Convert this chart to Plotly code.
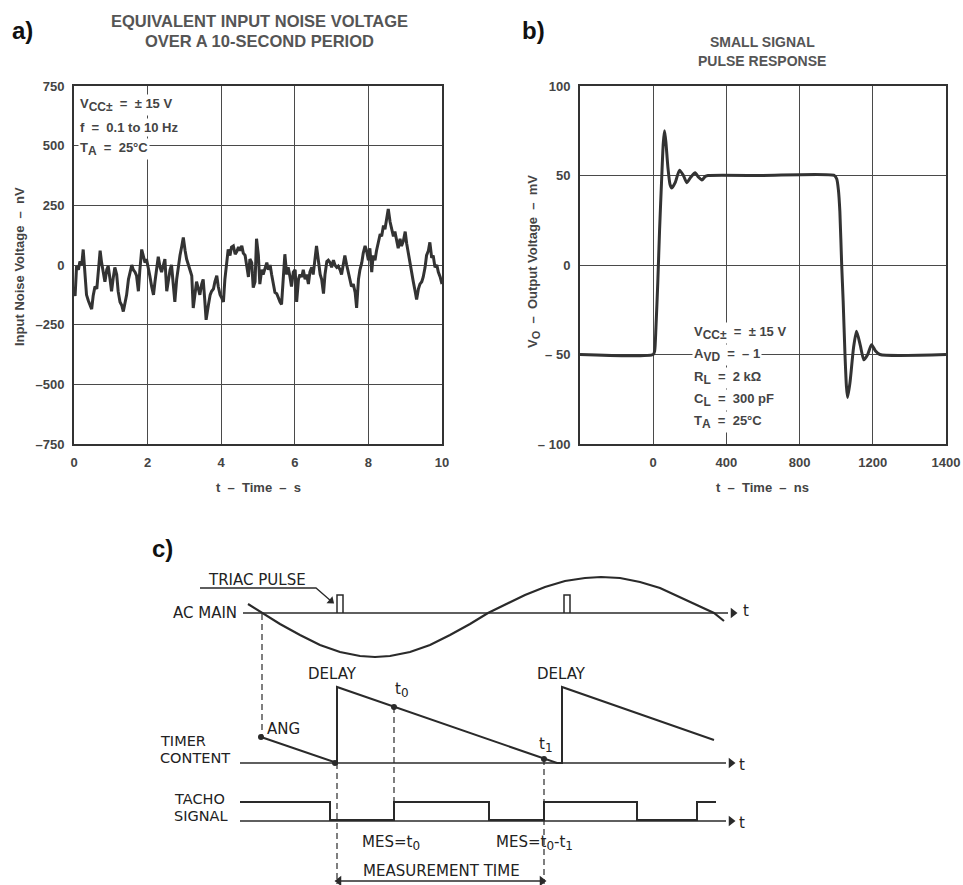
import plotly.graph_objects as go

# ---------------- Panel a: equivalent input noise ----------------
noise_t = [0.00,0.03,0.07,0.12,0.16,0.21,0.25,0.30,0.34,0.39,0.43,0.48,0.52,0.57,0.62,0.66,0.71,0.75,0.80,0.84,
           0.89,0.93,0.98,1.02,1.07,1.11,1.16,1.20,1.25,1.30,1.34,1.39,1.43,1.48,1.52,1.57,1.61,1.66,1.70,1.75,
           1.79,1.84,1.88,1.93,1.97,2.02,2.06,2.11,2.16,2.20,2.25,2.29,2.34,2.38,2.43,2.47,2.52,2.56,2.61,2.65,
           2.70,2.74,2.79,2.84,2.88,2.93,2.97,3.02,3.06,3.11,3.15,3.20,3.24,3.29,3.33,3.38,3.42,3.47,3.51,3.55,
           3.59,3.65,3.70,3.74,3.79,3.83,3.88,3.92,3.97,4.02,4.06,4.10,4.15,4.19,4.24,4.28,4.33,4.38,4.42,4.47,
           4.51,4.56,4.60,4.65,4.70,4.74,4.78,4.83,4.87,4.92,4.96,5.01,5.05,5.10,5.14,5.19,5.24,5.28,5.33,5.37,
           5.42,5.46,5.51,5.55,5.60,5.64,5.69,5.73,5.78,5.82,5.87,5.91,5.96,6.01,6.05,6.10,6.14,6.19,6.23,6.28,
           6.32,6.37,6.41,6.46,6.50,6.55,6.59,6.64,6.69,6.73,6.78,6.82,6.87,6.91,6.96,7.00,7.05,7.09,7.14,7.18,
           7.23,7.27,7.32,7.36,7.41,7.45,7.50,7.54,7.59,7.64,7.68,7.73,7.77,7.82,7.86,7.91,7.95,8.00,8.04,8.09,
           8.13,8.18,8.22,8.27,8.32,8.36,8.41,8.45,8.50,8.54,8.59,8.63,8.68,8.72,8.77,8.81,8.86,8.90,8.95,9.00,
           9.04,9.09,9.13,9.18,9.22,9.27,9.31,9.36,9.40,9.45,9.49,9.54,9.58,9.63,9.67,9.72,9.76,9.81,9.86,9.90,
           9.95,10.00]
noise_nv = [-110,-130,-5,-20,15,0,65,-40,-125,-150,-170,-185,-130,-90,-100,-20,60,10,-40,-70,
            -20,-5,-60,-110,-50,-10,-40,-110,-155,-170,-195,-150,-125,-60,-30,0,-20,-30,-45,-110,
            -20,65,40,10,25,-10,-45,-90,-125,-70,0,35,-10,-30,0,25,-110,-60,-20,0,
            -80,-155,-60,10,40,80,115,60,25,0,-20,-45,-180,-120,-70,-100,-125,-80,-60,-140,
            -230,-170,-125,-110,-100,-70,-45,-90,-125,-140,-155,-60,10,65,40,75,80,45,55,75,
            60,80,50,40,-10,-50,25,10,-95,-70,110,40,-80,-20,-40,-10,10,-20,0,-40,
            -75,-115,-120,-140,-155,-165,-60,45,-40,-10,-50,-90,-30,-20,-155,-60,-40,-50,-20,-60,
            -40,-80,-30,-10,-40,20,80,20,-40,-60,-120,-40,15,20,10,-10,20,0,-10,-5,
            -20,-40,10,40,0,-30,-60,-90,-80,-115,-180,-60,-20,10,50,80,60,20,70,-30,
            40,20,60,95,130,120,165,150,200,235,180,150,120,140,100,70,110,80,100,140,
            90,40,0,-40,-70,-110,-145,-100,-80,-70,-50,-10,40,60,95,30,40,-10,0,-30,
            -50,-80]
a_xticks = [0, 2, 4, 6, 8, 10]
a_yticks = [-750, -500, -250, 0, 250, 500, 750]
a_yticktext = ["\u2013750", "\u2013500", "\u2013250", "0", "250", "500", "750"]

# ---------------- Panel b: small signal pulse response ----------------
pulse_ns = [-400, 0, 8, 15, 25, 35, 47, 55, 62, 70, 80, 92, 102, 120, 144, 165, 184, 205, 229, 248, 266, 285, 300,
            600, 990, 1003, 1012, 1020, 1030, 1038, 1048, 1056, 1062, 1075, 1095, 1111, 1132, 1151, 1172, 1193,
            1215, 1239, 1600]
pulse_mv = [-50, -50, -48, -35, -10, 20, 50, 68, 75, 68, 55, 45, 43, 46, 53, 50, 46, 49, 51.5, 49, 47.5, 49.5, 50,
            50, 50, 48, 42, 30, 0, -20, -50, -68, -74, -66, -46, -37, -45, -53, -50, -44.5,
            -48, -50, -50]
b_xticks = [0, 400, 800, 1200, 1600]
b_xticktext = ["0", "400", "800", "1200", "1400"]
b_yticks = [-100, -50, 0, 50, 100]
b_yticktext = ["\u2013 100", "\u2013 50", "0", "50", "100"]

# ---------------- Panel c: timing diagram (diagram units) ----------------
sine_x = [248, 262, 280, 300, 320, 340, 360, 375, 390, 410, 430, 450, 470, 488, 505, 525, 545, 565, 585, 601,
          620, 640, 660, 680, 700, 714, 724]
sine_y = [604, 613, 624, 635, 645, 652, 656, 657, 656, 652, 645, 635, 624, 613, 605, 595, 587, 581, 578, 577,
          578, 582, 588, 597, 606, 613, 621]
pulse1_x = [337, 337, 343, 343]
pulse2_x = [564, 564, 570, 570]
pulse_y = [613, 595, 595, 613]
timer_x = [261, 335, 337, 337, 557, 562, 562, 714]
timer_y = [737, 763, 763, 687, 763, 763, 687, 740]
tacho_x = [240, 330, 330, 394, 394, 489, 489, 544, 544, 637, 637, 697, 697, 716]
tacho_y = [802, 802, 820, 820, 802, 802, 820, 820, 802, 802, 820, 820, 802, 802]
dots_x = [261, 335, 394, 544]
dots_y = [737, 763, 707, 759]
dash_lines = [([262, 262], [614, 735]), ([337, 337], [763, 884]), ([394, 394], [707, 820]), ([544, 544], [759, 884])]
leader_x = [200, 316, 331]
leader_y = [588, 588, 601]
axis_arrow_x = [733, 731, 731]
axis_arrow_y = [613, 763, 821]
meas_x = [339, 542]
meas_y = [881, 881]

INK = "#333333"
FONT = "Liberation Sans, Arial, sans-serif"
CFONT = "DejaVu Sans, sans-serif"
W, H = 963, 885

def xd(a, b):
    return [a / W, b / W]

def yd(top, bottom):
    return [1 - bottom / H, 1 - top / H]

fig = go.Figure()

fig.add_trace(go.Scatter(x=noise_t, y=noise_nv, mode="lines", xaxis="x", yaxis="y",
                         line=dict(color=INK, width=3), hoverinfo="skip"))
fig.add_trace(go.Scatter(x=pulse_ns, y=pulse_mv, mode="lines", xaxis="x2", yaxis="y2",
                         line=dict(color=INK, width=3, shape="spline", smoothing=0.6), hoverinfo="skip"))

def cline(x, y, width=2.0, dash=None):
    fig.add_trace(go.Scatter(x=x, y=y, mode="lines", xaxis="x3", yaxis="y3",
                             line=dict(color="#2a2a2a", width=width, dash=dash), hoverinfo="skip"))

cline(sine_x, sine_y, 2.2)
cline(pulse1_x, pulse_y, 1.5)
cline(pulse2_x, pulse_y, 1.5)
cline([243, 728], [613, 613], 1.4)
cline(timer_x, timer_y, 2.0)
cline([240, 726], [763, 763], 1.4)
cline(tacho_x, tacho_y, 2.0)
cline([240, 726], [821, 821], 1.4)
cline(leader_x, leader_y, 1.3)
cline(meas_x, meas_y, 1.3)
for dx, dy in dash_lines:
    cline(dx, dy, 1.2, dash="6px,4px")
fig.add_trace(go.Scatter(x=dots_x, y=dots_y, mode="markers", xaxis="x3", yaxis="y3",
                         marker=dict(color="#2a2a2a", size=6), hoverinfo="skip"))
# arrow heads
fig.add_trace(go.Scatter(x=axis_arrow_x + [meas_x[1]], y=axis_arrow_y + [meas_y[1]], mode="markers",
                         xaxis="x3", yaxis="y3", hoverinfo="skip",
                         marker=dict(symbol="triangle-right", size=9, color="#2a2a2a")))
fig.add_trace(go.Scatter(x=[meas_x[0]], y=[meas_y[0]], mode="markers", xaxis="x3", yaxis="y3", hoverinfo="skip",
                         marker=dict(symbol="triangle-left", size=9, color="#2a2a2a")))
fig.add_trace(go.Scatter(x=[leader_x[-1]], y=[leader_y[-1]], mode="markers", xaxis="x3", yaxis="y3",
                         hoverinfo="skip",
                         marker=dict(symbol="triangle-right", size=8, angle=40, color="#2a2a2a")))

ann = []
def txt(x, y, text, size=15, xanchor="left", bold=False, color="#222222", bg=None, angle=0, family=CFONT):
    d = dict(x=x, y=y, text=text, showarrow=False, xref="x3", yref="y3", xanchor=xanchor, yanchor="middle",
             font=dict(family=family, size=size, color=color, weight="bold" if bold else "normal"),
             textangle=angle)
    if bg:
        d.update(bgcolor=bg, borderpad=1)
    ann.append(d)

def sub(s, px):
    return '<sub><span style="font-size:%dpx">%s</span></sub>' % (px, s)

# panel c labels
txt(150, 548, "c)", size=24, bold=True, color="#111111", family=FONT)
txt(257, 580, "TRIAC PULSE", xanchor="center")
txt(239, 613, "AC MAIN", xanchor="right")
txt(741, 611, "t")
txt(332, 674, "DELAY", xanchor="center")
txt(561, 674, "DELAY", xanchor="center")
txt(265, 729, "ANG")
txt(393, 690, "t" + sub("0", 12))
txt(537, 745, "t" + sub("1", 12))
txt(158, 741, "TIMER", size=14.5)
txt(158, 758, "CONTENT", size=14.5)
txt(172, 799, "TACHO", size=14.5)
txt(172, 816, "SIGNAL", size=14.5)
txt(360, 843, "MES=t" + sub("0", 12))
txt(494, 843, "MES=t" + sub("0", 12) + "-t" + sub("1", 12))
txt(441, 871, "MEASUREMENT TIME", xanchor="center")
txt(737, 765, "t")
txt(737, 823, "t")

# panel a/b headers
txt(10, 30, "a)", size=24, bold=True, color="#111111", family=FONT)
txt(520, 30, "b)", size=24, bold=True, color="#111111", family=FONT)
txt(259, 21, "EQUIVALENT INPUT NOISE VOLTAGE", size=16.5, xanchor="center", bold=True, color="#555555", family=FONT)
txt(259, 41, "OVER A 10-SECOND PERIOD", size=16.5, xanchor="center", bold=True, color="#555555", family=FONT)
txt(762, 42, "SMALL SIGNAL", size=14, xanchor="center", bold=True, color="#555555", family=FONT)
txt(762, 61, "PULSE RESPONSE", size=14, xanchor="center", bold=True, color="#555555", family=FONT)
txt(258, 487, "t  \u2013  Time  \u2013  s", size=13, xanchor="center", bold=True, color="#444444", family=FONT)
txt(762, 487, "t  \u2013  Time  \u2013  ns", size=13, xanchor="center", bold=True, color="#444444", family=FONT)
txt(19, 267, "Input Noise Voltage  \u2013  nV", size=13, xanchor="center", bold=True, color="#444444",
    angle=-90, family=FONT)
txt(533, 262, "V" + sub("O", 11) + "  \u2013  Output Voltage  \u2013  mV", size=13, xanchor="center", bold=True,
    color="#444444", angle=-90, family=FONT)

# condition boxes
for yy, t in [(105, "V" + sub("CC\u00b1", 12) + "  =  \u00b1 15 V"), (127, "f  =  0.1 to 10 Hz"),
              (149, "T" + sub("A", 12) + "  =  25\u00b0C")]:
    txt(78, yy, t, size=13, bold=True, color="#444444", bg="white", family=FONT)
for yy, t in [(333, "V" + sub("CC\u00b1", 12) + "  =  \u00b1 15 V"), (355, "A" + sub("VD", 12) + "  =  \u2013 1"),
              (378, "R" + sub("L", 12) + "  =  2 k\u03a9"), (400, "C" + sub("L", 12) + "  =  300 pF"),
              (422, "T" + sub("A", 12) + "  =  25\u00b0C")]:
    txt(692, yy, t, size=13, bold=True, color="#444444", bg="white", family=FONT)

axis_common = dict(showgrid=True, gridcolor="#4a4a4a", gridwidth=1.4, zeroline=False,
                   showline=True, mirror=True, linecolor="#333333", linewidth=2, ticks="",
                   tickfont=dict(family=FONT, size=13, color="#444444", weight="bold"),
                   ticklabelstandoff=5, automargin=False)

fig.update_layout(
    width=W, height=H, margin=dict(l=0, r=0, t=0, b=0, pad=0), autosize=False,
    paper_bgcolor="white", plot_bgcolor="rgba(0,0,0,0)", showlegend=False,
    xaxis=dict(domain=xd(74, 442), anchor="y", range=[0, 10], tickvals=a_xticks, **axis_common),
    yaxis=dict(domain=yd(86, 444), anchor="x", range=[-750, 750], tickvals=a_yticks, ticktext=a_yticktext,
               **axis_common),
    xaxis2=dict(domain=xd(580, 946), anchor="y2", range=[-400, 1600], tickvals=b_xticks,
                ticktext=b_xticktext, **axis_common),
    yaxis2=dict(domain=yd(86, 444), anchor="x2", range=[-100, 100], tickvals=b_yticks, ticktext=b_yticktext,
                **axis_common),
    xaxis3=dict(domain=[0, 1], anchor="y3", range=[0, W], visible=False, automargin=False),
    yaxis3=dict(domain=[0, 1], anchor="x3", range=[H, 0], visible=False, automargin=False),
    annotations=ann,
)

fig.write_html("out.html", config={"displayModeBar": False},
               post_script="document.documentElement.style.margin='0';document.body.style.margin='0';"
                           "document.documentElement.style.overflow='hidden';document.body.style.overflow='hidden';")
